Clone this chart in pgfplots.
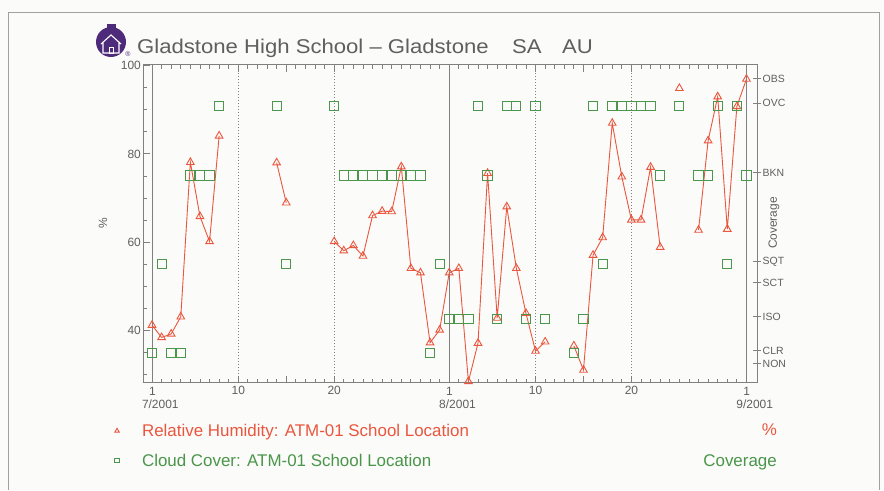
\documentclass[border=0pt]{standalone}
\usepackage{fontspec}
\setmainfont{Liberation Sans}
\usepackage{pgfplots}
\pgfplotsset{compat=1.18}
\usepackage{pgfplotstable}

\definecolor{rhred}{RGB}{234,86,62}
\definecolor{ccgreen}{RGB}{74,150,74}
\definecolor{txtgray}{RGB}{95,95,95}
\definecolor{framegray}{RGB}{128,128,128}
\definecolor{paper}{RGB}{251,251,249}
\definecolor{logopurple}{RGB}{78,42,122}

% Relative humidity, one reading per day (day 0 = 1 July 2001); nan = no data
\pgfplotstableread{
day rh
0 41.1
1 38.3
2 39.1
3 43.0
4 78.1
5 65.8
6 60.1
7 84.1
8 nan
13 78.0
14 68.9
15 nan
19 60.1
20 58.0
21 59.2
22 56.8
23 66.0
24 67.0
25 66.9
26 77.1
27 54.0
28 53.0
29 37.1
30 40.0
31 53.0
32 54.0
33 28.3
34 37.0
35 75.6
36 42.7
37 68.0
38 54.0
39 43.8
40 35.2
41 37.3
42 nan
44 36.4
45 30.9
46 57.0
47 61.0
48 87.0
49 74.8
50 65.0
51 65.0
52 77.0
53 58.8
54 nan
55 94.9
56 nan
57 62.7
58 83.0
59 93.0
60 62.9
61 90.8
62 97.0
}\rhdata

% Cloud cover class per day, on the humidity scale
% (OVC 90.8, BKN 75.1, SQT 54.9, ISO 42.4, CLR 34.7)
\pgfplotstableread{
day cc
0 34.7
1 54.9
2 34.7
3 34.7
4 75.1
5 75.1
6 75.1
7 90.8
13 90.8
14 54.9
19 90.8
20 75.1
21 75.1
22 75.1
23 75.1
24 75.1
25 75.1
26 75.1
27 75.1
28 75.1
29 34.7
30 54.9
31 42.4
32 42.4
33 42.4
34 90.8
35 75.1
36 42.4
37 90.8
38 90.8
39 42.4
40 90.8
41 42.4
44 34.7
45 42.4
46 90.8
47 54.9
48 90.8
49 90.8
50 90.8
51 90.8
52 90.8
53 75.1
55 90.8
57 75.1
58 75.1
59 90.8
60 54.9
61 90.8
62 75.1
}\ccdata

\newcommand{\monthlab}[1]{\makebox[0pt][l]{\hspace{-10bp}\begin{tabular}[t]{@{}l@{}}\hspace{7bp}1\\[-1bp]#1\end{tabular}}}

\begin{document}
\begin{tikzpicture}[x=1bp,y=1bp]
% page and outer frame
\fill[paper] (0,0) rectangle (884,490);
\draw[framegray!75, line width=1bp] (8,0) -- (8,477) -- (879,477) -- (879,0);

% school emblem
\fill[logopurple] (111,448) circle (15);
\fill[logopurple] (107,456) rectangle (116,466);
\draw[white, line width=1.1bp] (101,446) -- (111,455) -- (121,446) (103,447) -- (103,437) -- (119,437) -- (119,447);
\draw[white, line width=0.9bp] (109,437) rectangle (113,443);
\node[font=\fontsize{7}{7}\selectfont, text=logopurple, inner sep=0] at (128,436) {\textregistered};

% title
\node[anchor=base west, inner sep=0, text=txtgray, font=\fontsize{20}{24}\selectfont] at (137,436) {\scalebox{1.11}[1]{Gladstone High School -- Gladstone}};
\node[anchor=base west, inner sep=0, text=txtgray, font=\fontsize{20}{24}\selectfont] at (512,436) {\scalebox{1.11}[1]{SA}};
\node[anchor=base west, inner sep=0, text=txtgray, font=\fontsize{20}{24}\selectfont] at (562,436) {\scalebox{1.11}[1]{AU}};

\begin{axis}[
  at={(143bp,107bp)}, anchor=south west,
  scale only axis, width=614bp, height=318bp,
  xmin=-0.94, xmax=63.1, ymin=27.95, ymax=100.2,
  axis line style={framegray, line width=1bp},
  tick style={framegray, line width=0.8bp},
  tick align=inside,
  major tick length=7bp, minor tick length=4bp,
  ytick pos=left,
  xtick={0,9,14,19,31,40,45,50,62},
  xticklabels={\monthlab{7/2001},10,,20,\monthlab{8/2001},10,,20,\monthlab{9/2001}},
  minor xtick={1,...,61},
  ytick={40,60,80,100},
  minor ytick={30,35,45,50,55,65,70,75,85,90,95},
  /pgf/number format/assume math mode=true,
  ticklabel style={font=\fontsize{12}{14}\selectfont, text=txtgray},
  yticklabel style={inner sep=2bp},
  xticklabel style={inner sep=3bp},
  unbounded coords=jump,
  legend cell align=left,
  legend style={at={(-0.054,-0.122)}, anchor=north west, draw=none, fill=none,
    inner sep=0pt, row sep=12bp, column sep=16bp,
    font=\fontsize{17}{20}\selectfont},
]
% month boundaries (solid) and decades (dotted)
\draw[framegray, line width=1bp] (0,27.95) -- (0,100.2);
\draw[framegray, line width=1bp] (31,27.95) -- (31,100.2);
\draw[framegray, line width=1bp] (62,27.95) -- (62,100.2);
\foreach \d in {9,19,40,50}{
  \edef\tmp{\noexpand\draw[framegray, line width=1bp, dash pattern=on 1bp off 2bp] (\d,27.95) -- (\d,100.2);}
  \tmp
}

\addplot[rhred, line width=0.9bp, mark=triangle, mark size=4.4bp,
  mark options={solid, line width=0.9bp},
  legend image code/.code={\path[draw=none, fill=none] (0bp,-3bp) rectangle (14bp,3bp);
    \draw[rhred, line width=0.7bp, mark=triangle, mark size=2.6bp] plot coordinates {(7bp,0bp)};}]
  table[x=day, y=rh] {\rhdata};
\addlegendentry{\textcolor{rhred}{Relative Humidity: ATM-01 School Location}}

\addplot[ccgreen, only marks, mark=square, mark size=4.6bp,
  mark options={line width=1bp},
  legend image code/.code={\path[draw=none, fill=none] (0bp,-3bp) rectangle (14bp,3bp);
    \draw[ccgreen, line width=0.7bp, mark=square, mark size=2.3bp] plot coordinates {(7bp,0bp)};}]
  table[x=day, y=cc] {\ccdata};
\addlegendentry{\textcolor{ccgreen}{Cloud Cover: ATM-01 School Location}}
\end{axis}

% coverage scale on the right
\begin{axis}[
  at={(143bp,107bp)}, anchor=south west,
  scale only axis, width=614bp, height=318bp,
  xmin=-0.94, xmax=63.1, ymin=27.95, ymax=100.2,
  axis x line=none, axis y line*=right,
  axis line style={framegray, line width=1bp},
  tick style={framegray, line width=0.8bp},
  tick align=center, major tick length=8bp,
  ytick={97.05,91.5,75.75,55.5,50.75,43.0,35.3,32.3},
  yticklabels={OBS,OVC,BKN,SQT,SCT,ISO,CLR,NON},
  yticklabel style={font=\fontsize{10.5}{12}\selectfont, text=txtgray, inner sep=1.5bp},
]
\end{axis}

% axis titles and units
\node[rotate=90, text=txtgray, font=\fontsize{12}{14}\selectfont] at (103,267) {\%};
\node[rotate=90, text=txtgray, font=\fontsize{12}{14}\selectfont] at (774,267) {Coverage};
\node[anchor=base east, text=rhred, font=\fontsize{17}{20}\selectfont, inner sep=0] at (777,54) {\%};
\node[anchor=base east, text=ccgreen, font=\fontsize{17}{20}\selectfont, inner sep=0] at (777,23) {Coverage};
\end{tikzpicture}
\end{document}
